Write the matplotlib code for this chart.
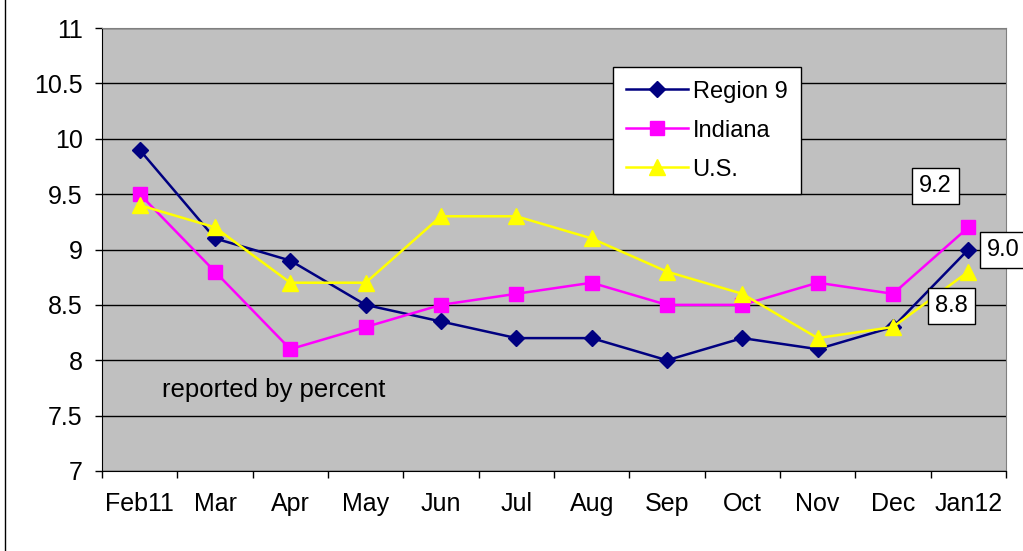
import numpy as np
import matplotlib
matplotlib.use('Agg')
import matplotlib.pyplot as plt
from matplotlib.lines import Line2D

plt.rcParams['font.family'] = ['Liberation Sans', 'DejaVu Sans']

months = ['Feb11', 'Mar', 'Apr', 'May', 'Jun', 'Jul', 'Aug', 'Sep', 'Oct', 'Nov', 'Dec', 'Jan12']
region9 = [9.9, 9.1, 8.9, 8.5, 8.35, 8.2, 8.2, 8.0, 8.2, 8.1, 8.3, 9.0]
indiana = [9.5, 8.8, 8.1, 8.3, 8.5, 8.6, 8.7, 8.5, 8.5, 8.7, 8.6, 9.2]
us = [9.4, 9.2, 8.7, 8.7, 9.3, 9.3, 9.1, 8.8, 8.6, 8.2, 8.3, 8.8]

fig = plt.figure(figsize=(10.23, 5.51), dpi=100)
ax = fig.add_axes([102/1023, 1 - 471/551, 904/1023, 443/551])
ax.set_facecolor('#C0C0C0')

x = np.arange(len(months))
ax.plot(x, region9, color='#000080', lw=1.8, marker='D', ms=8.5, label='Region 9', zorder=3)
ax.plot(x, indiana, color='#FF00FF', lw=1.8, marker='s', ms=10, label='Indiana', zorder=3)
ax.plot(x, us, color='#FFFF00', lw=1.8, marker='^', ms=11, label='U.S.', zorder=3)

ax.set_xlim(-0.5, len(months) - 0.5)
ax.set_ylim(7, 11)
ax.set_yticks(np.arange(7, 11.01, 0.5))
ax.set_yticklabels(['7', '7.5', '8', '8.5', '9', '9.5', '10', '10.5', '11'])
ax.yaxis.grid(True, color='black', lw=1)
ax.set_axisbelow(True)

ax.set_xticks(np.arange(-0.5, len(months), 1.0))
ax.set_xticklabels([])
ax.set_xticks(x, minor=True)
ax.set_xticklabels(months, minor=True)
ax.tick_params(axis='x', which='minor', length=0, pad=15, labelsize=18)
ax.tick_params(axis='x', which='major', length=5, direction='out', width=1)
ax.tick_params(axis='y', length=5, direction='out', width=1, labelsize=18, pad=9)

for s in ['left', 'bottom']:
    ax.spines[s].set_color('black')
for s in ['top', 'right']:
    ax.spines[s].set_color('#808080')

leg = ax.legend(loc='upper left', bbox_to_anchor=(0.565, 0.912), fontsize=17,
                fancybox=False, edgecolor='black', framealpha=1, handlelength=2.6,
                labelspacing=0.72, borderpad=0.58, handletextpad=0.2, borderaxespad=0)
leg.get_frame().set_linewidth(1)

box = dict(boxstyle='square,pad=0.3', fc='white', ec='black', lw=1)
ax.text(10.56, 9.57, f'{indiana[-1]:.1f}', ha='center', va='center', fontsize=17, bbox=box)
ax.text(11.46, 8.995, f'{region9[-1]:.1f}', ha='center', va='center', fontsize=17, bbox=box, clip_on=False)
ax.text(10.78, 8.49, f'{us[-1]:.1f}', ha='center', va='center', fontsize=17, bbox=box)

ax.text(0.066, 0.183, 'reported by percent', transform=ax.transAxes, fontsize=18.5, ha='left', va='center')

fig.add_artist(Line2D([5/1023, 5/1023], [0, 1], color='black', lw=1))

fig.savefig('out.png', dpi=100)
